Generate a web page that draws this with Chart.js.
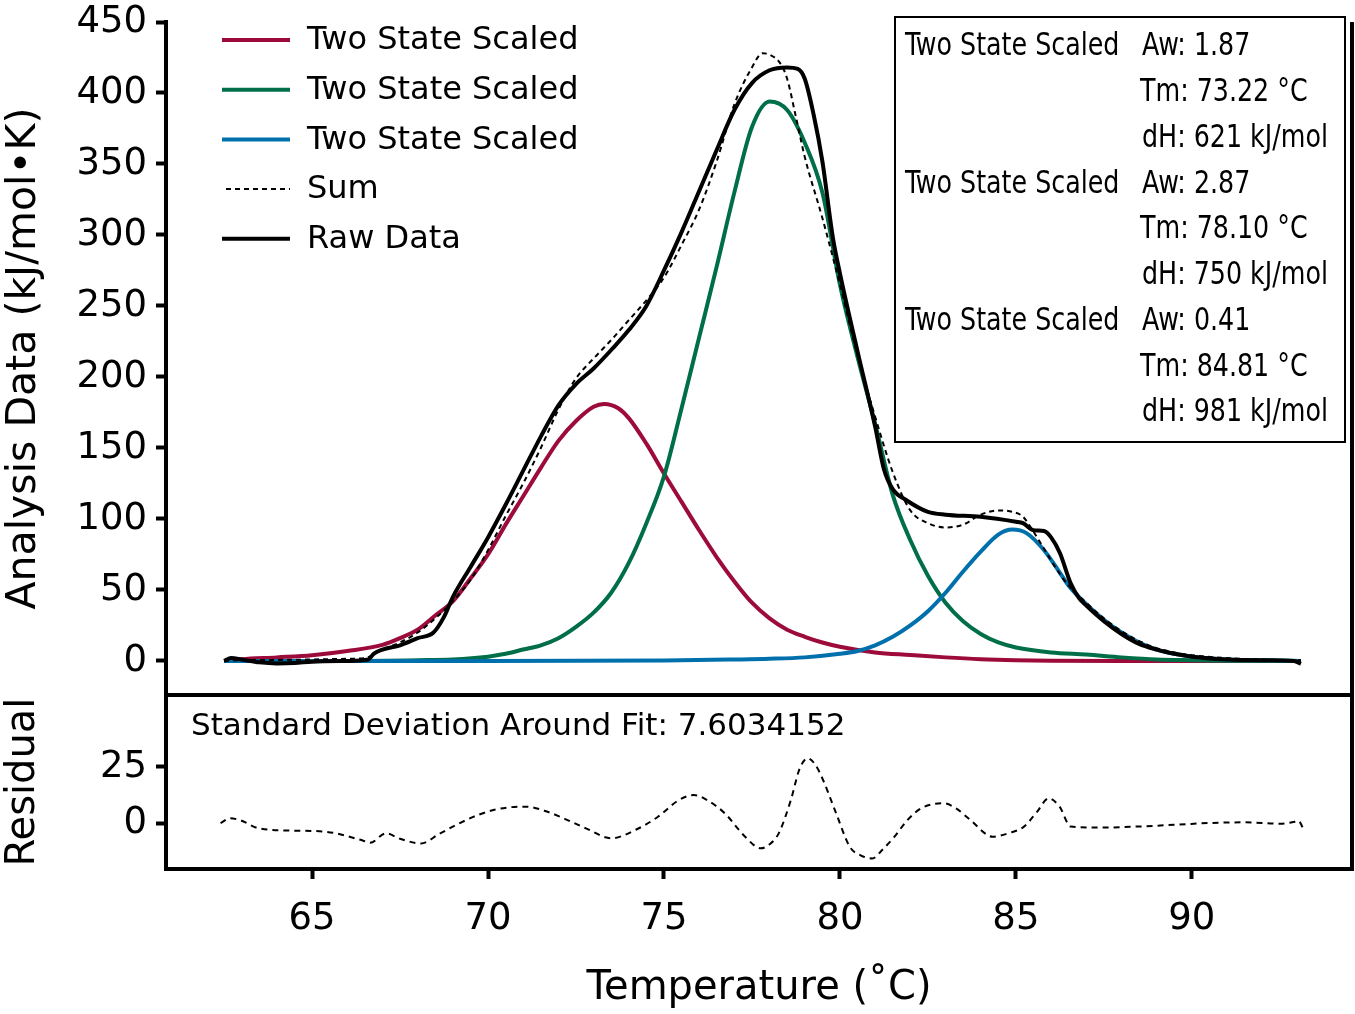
<!DOCTYPE html>
<html>
<head>
<meta charset="utf-8">
<script src="https://cdn.jsdelivr.net/npm/chart.js@4.4.1/dist/chart.umd.min.js"></script>
<style>
  html, body { margin: 0; padding: 0; background: #fff; }
  #wrap { width: 1355px; height: 1014px; }
</style>
</head>
<body>
<div id="wrap"><canvas id="dsc" width="1355" height="1014"></canvas></div>
<script>
// values (x = temperature in °C)
const redT = [62.5, 63, 64, 65, 66, 67, 67.5, 68, 68.5, 69, 69.5, 70, 70.5, 71, 71.5, 72, 72.5, 73, 73.3, 73.7, 74, 74.5, 75, 75.5, 76, 76.5, 77, 77.5, 78, 78.5, 79, 79.5, 80, 81, 82, 83, 84, 85, 86, 88, 90, 93.1];
const redV = [0, 1.2, 2.5, 4, 7, 11.3, 16, 22, 32, 42, 58, 75, 96, 116, 136, 155, 169, 179, 181, 178, 171, 153, 132, 112, 92, 73, 56, 41, 30, 22, 17, 13, 10, 6, 4.2, 2.5, 1.2, 0.5, 0.2, 0, 0, 0];

const greenT = [62.5, 66, 68, 69, 70, 70.5, 71, 71.5, 72, 72.5, 73, 73.5, 74, 74.5, 75, 75.5, 76, 76.5, 77, 77.5, 78, 78.5, 79, 79.5, 80, 80.5, 81, 81.5, 82, 82.5, 83, 83.5, 84, 84.5, 85, 86, 87, 88, 89, 90, 91, 93.1];
const greenV = [0, 0, 0.5, 1, 3, 5, 8, 11, 16, 24, 34, 48, 69, 97, 130, 178, 228, 278, 330, 376, 394, 388, 365, 330, 265, 214, 167, 117, 85, 60, 41, 28, 19, 13, 9.5, 6, 4.5, 2.5, 1, 0.5, 0.2, 0];

const blueT = [62.5, 70, 75, 77, 78, 79, 80, 80.5, 81, 81.5, 82, 82.5, 83, 83.5, 84, 84.5, 84.9, 85.3, 85.8, 86.2, 86.5, 87, 87.5, 88, 88.5, 89, 89.5, 90, 91, 92, 93.1];
const blueV = [0, 0, 0.3, 1, 1.5, 2.5, 5, 7, 11, 17, 25, 35, 48, 63, 77, 89, 92.5, 90, 78, 64, 53, 40, 29, 20, 13, 8, 5, 3, 1, 0.4, 0];

const sumT = [62.5, 63, 64, 65, 66, 66.5, 67, 67.5, 68, 68.5, 69, 69.5, 70, 70.5, 71, 71.5, 72, 72.5, 73, 73.5, 74, 74.5, 75, 75.5, 76, 76.5, 77, 77.5, 77.8, 78, 78.3, 78.5, 78.75, 79, 79.5, 80, 80.5, 81, 81.5, 82, 82.5, 83, 83.5, 84, 84.5, 84.9, 85.2, 85.5, 85.7, 86.2, 86.5, 87, 87.5, 88, 88.5, 89, 89.5, 90, 91, 92, 93.1];
const sumV = [0, 0.5, 0.7, 1, 1.5, 2, 8, 13, 20, 30, 42, 57, 78, 102, 125, 150, 177, 199, 213, 226, 240, 254, 270, 293, 318, 352, 392, 418, 428, 427, 421, 410, 383, 355, 312, 265, 215, 172, 133, 106, 97, 94, 96, 103, 106, 105, 101.6, 91, 83, 63, 53, 41, 30, 21, 14, 9, 6, 4, 2, 1, 0.5];

const rawT = [62.5, 62.7, 63, 63.5, 64, 64.5, 65, 66, 66.6, 66.75, 67, 67.5, 68, 68.45, 68.75, 69, 69.5, 70, 70.5, 71, 71.5, 72, 72.5, 73, 73.5, 74, 74.5, 75, 75.5, 76, 76.5, 77, 77.5, 78, 78.5, 78.8, 79, 79.25, 79.5, 79.8, 80, 80.5, 81, 81.25, 81.5, 81.9, 82.5, 83, 84, 85, 85.2, 85.5, 85.8, 86, 86.25, 86.55, 86.8, 87, 87.5, 88, 88.5, 89, 89.5, 90, 91, 92, 92.9, 93.1];
const rawV = [0, 2, 1, -1, -1.8, -1.5, -0.5, 0, 1, 5, 8, 11, 16, 20, 31, 45, 66, 87, 110, 134, 158, 180, 195, 206, 219, 233, 250, 275, 302, 331, 360, 388, 407, 416, 418, 417, 410, 385, 352, 298, 273, 218, 165, 135, 121, 113, 105, 103, 101.5, 98, 97, 92, 91.5, 87, 76, 55, 44, 39, 28, 19, 12, 8, 5, 3, 1, 0.5, 0, -2];

const residT = [62.4, 62.67, 62.95, 63.5, 64.5, 65.4, 66.4, 66.65, 67.1, 67.5, 68.1, 68.6, 69.2, 69.7, 70.15, 70.6, 71.1, 71.6, 72.05, 72.8, 73.5, 74.2, 74.83, 75.4, 75.85, 76.3, 76.73, 77.3, 77.75, 78.0, 78.26, 78.6, 78.85, 79.08, 79.3, 79.52, 79.9, 80.28, 80.6, 80.92, 81.2, 81.55, 81.9, 82.31, 82.95, 83.3, 83.71, 84.34, 84.8, 85.23, 85.6, 85.93, 86.24, 86.56, 87.5, 88.4, 89.5, 90.5, 91.5, 92.5, 92.9, 93.03, 93.15];
const residV = [0, 2.1, 1.3, -2.4, -3.4, -3.9, -7.6, -8.8, -4.6, -7, -9.1, -5, 0, 3.5, 5.8, 7, 7.3, 5.5, 2.8, -2.5, -6.8, -3, 2.8, 10, 12.5, 9.5, 4.3, -6, -11.3, -9.5, -4.6, 10, 24, 28.9, 26, 19.2, 4, -10.6, -14.5, -15.8, -12, -6.1, 1, 6.6, 8.8, 6.5, 1.3, -6.1, -4.5, -1.6, 5, 11, 7.3, -1.6, -2, -1.6, -0.8, 0, 0.3, -0.3, 0.5, 1, -2];

const xTicks = [65, 70, 75, 80, 85, 90];
const mainTicks = [0, 50, 100, 150, 200, 250, 300, 350, 400, 450];
const residTicks = [0, 25];

const fitAw = ['1.87', '2.87', '0.41'];
const fitTm = ['73.22', '78.10', '84.81'];
const fitDh = ['621', '750', '981'];
const sdFit = '7.6034152';

const FONT = '"DejaVu Sans", sans-serif';
const NARROW = '"DejaVu Sans Condensed", "Liberation Sans Narrow", sans-serif';

function pts(xs, ys) {
    return xs.map((x, i) => ({ x: x, y: ys[i] }));
}

function curve(label, xs, ys, color, width, dash, order) {
    return {
        label: label,
        data: pts(xs, ys),
        borderColor: color,
        borderWidth: width,
        borderDash: dash,
        pointRadius: 0,
        fill: false,
        cubicInterpolationMode: 'monotone',
        order: order,
        yAxisID: 'y',
    };
}

const datasets = [
    curve('Two State Scaled', redT, redV, '#9c0b3a', 4, [], 4),
    curve('Two State Scaled', greenT, greenV, '#006f48', 4, [], 3),
    curve('Two State Scaled', blueT, blueV, '#0070ac', 4, [], 2),
    curve('Sum', sumT, sumV, '#000', 2, [5, 4], 0),
    curve('Raw Data', rawT, rawV, '#000', 4, [], 1),
];
const residual = curve('Residual', residT, residV, '#000', 2, [6, 5], 0);
residual.yAxisID = 'yRes';
datasets.push(residual);

// frame lines that the axes themselves do not draw
const framePlugin = {
    id: 'frames',
    afterDraw(chart) {
        const { ctx, chartArea } = chart;
        const yMain = chart.scales.y;
        ctx.save();
        ctx.strokeStyle = '#000';
        ctx.lineWidth = 4;
        ctx.beginPath();
        ctx.moveTo(chartArea.left, yMain.bottom);
        ctx.lineTo(chartArea.right + 2, yMain.bottom);
        ctx.moveTo(chartArea.right, chartArea.top);
        ctx.lineTo(chartArea.right, chartArea.bottom + 2);
        ctx.stroke();
        ctx.restore();
    }
};

// legend in the upper left corner of the main panel
const legendPlugin = {
    id: 'cornerLegend',
    afterDraw(chart) {
        const { ctx, chartArea } = chart;
        const x0 = chartArea.left + 56;
        const y0 = chartArea.top + 18;
        ctx.save();
        ctx.font = '32px ' + FONT;
        ctx.textBaseline = 'middle';
        ctx.fillStyle = '#000';
        chart.data.datasets.forEach((ds, i) => {
            if (ds.yAxisID !== 'y') return;
            const y = y0 + i * 49.7;
            ctx.strokeStyle = ds.borderColor;
            ctx.lineWidth = ds.borderWidth;
            ctx.setLineDash(ds.borderDash);
            ctx.beginPath();
            ctx.moveTo(x0 + (ds.borderDash.length ? 4 : 0), y);
            ctx.lineTo(x0 + 68, y);
            ctx.stroke();
            ctx.fillText(ds.label, x0 + 85, y + 1);
        });
        ctx.restore();
    }
};

function narrowText(ctx, text, x, y) {
    ctx.save();
    ctx.translate(x, y);
    ctx.scale(0.88, 1);
    ctx.fillText(text, 0, 0);
    ctx.restore();
}

// fit parameter box and std dev note
const notesPlugin = {
    id: 'notes',
    afterDraw(chart) {
        const { ctx } = chart;
        const yRes = chart.scales.yRes;
        ctx.save();
        ctx.strokeStyle = '#000';
        ctx.lineWidth = 2;
        ctx.strokeRect(895, 17, 450, 425);
        ctx.fillStyle = '#000';
        ctx.textBaseline = 'middle';
        ctx.font = '32px ' + NARROW;
        let row = 0;
        fitAw.forEach((aw, i) => {
            const y = 47 + row * 45.75;
            narrowText(ctx, 'Two State Scaled', 905, y);
            narrowText(ctx, 'Aw: ' + aw, 1142, y);
            narrowText(ctx, 'Tm: ' + fitTm[i] + ' °C', 1140, y + 45.75);
            narrowText(ctx, 'dH: ' + fitDh[i] + ' kJ/mol', 1142, y + 91.5);
            row += 3;
        });
        ctx.font = '31px ' + FONT;
        ctx.fillText('Standard Deviation Around Fit: ' + sdFit, 191, yRes.top + 32);
        ctx.restore();
    }
};

const tickFont = { family: FONT, size: 37 };
const titleFont = { family: FONT, size: 40 };

function fitLeft(s) {
    s.width = 166;
    s.paddingTop = 0;
    s.paddingBottom = 0;
}

new Chart(document.getElementById('dsc'), {
    type: 'line',
    data: { datasets: datasets },
    options: {
        responsive: false,
        animation: false,
        events: [],
        layout: { padding: { top: 22, right: 3, left: 0, bottom: 0 } },
        plugins: {
            legend: { display: false },
            tooltip: { enabled: false },
        },
        scales: {
            x: {
                type: 'linear',
                min: 60.85,
                max: 94.55,
                afterBuildTicks: (s) => { s.ticks = xTicks.map(v => ({ value: v })); },
                afterFit: (s) => { s.height = 145; s.paddingLeft = 0; s.paddingRight = 0; },
                grid: { drawOnChartArea: false, drawTicks: true, tickLength: 10, tickWidth: 4, tickColor: '#000' },
                border: { display: true, width: 4, color: '#000' },
                ticks: { color: '#000', font: tickFont, padding: 18, maxRotation: 0, autoSkip: false },
                title: { display: true, text: 'Temperature (˚C)', color: '#000', font: titleFont, padding: { top: 0, bottom: 1 } },
            },
            y: {
                type: 'linear',
                position: 'left',
                stack: 'panels',
                stackWeight: 673,
                weight: 2,
                min: -24,
                max: 450,
                afterBuildTicks: (s) => { s.ticks = mainTicks.map(v => ({ value: v })); },
                afterFit: fitLeft,
                grid: { drawOnChartArea: false, drawTicks: true, tickLength: 10, tickWidth: 4, tickColor: '#000' },
                border: { display: true, width: 4, color: '#000' },
                ticks: { color: '#000', font: tickFont, padding: 9, autoSkip: false },
                title: { display: true, text: 'Analysis Data (kJ/mol•K)', color: '#000', font: { family: FONT, size: 41 }, padding: 0 },
            },
            yRes: {
                type: 'linear',
                position: 'left',
                stack: 'panels',
                stackWeight: 174,
                weight: 1,
                min: -20.5,
                max: 57.1,
                afterBuildTicks: (s) => { s.ticks = residTicks.map(v => ({ value: v })); },
                afterFit: fitLeft,
                grid: { drawOnChartArea: false, drawTicks: true, tickLength: 10, tickWidth: 4, tickColor: '#000' },
                border: { display: true, width: 4, color: '#000' },
                ticks: { color: '#000', font: tickFont, padding: 9, autoSkip: false },
                title: { display: true, text: 'Residual', color: '#000', font: titleFont, padding: 0 },
            },
        },
    },
    plugins: [framePlugin, legendPlugin, notesPlugin],
});
</script>
</body>
</html>
